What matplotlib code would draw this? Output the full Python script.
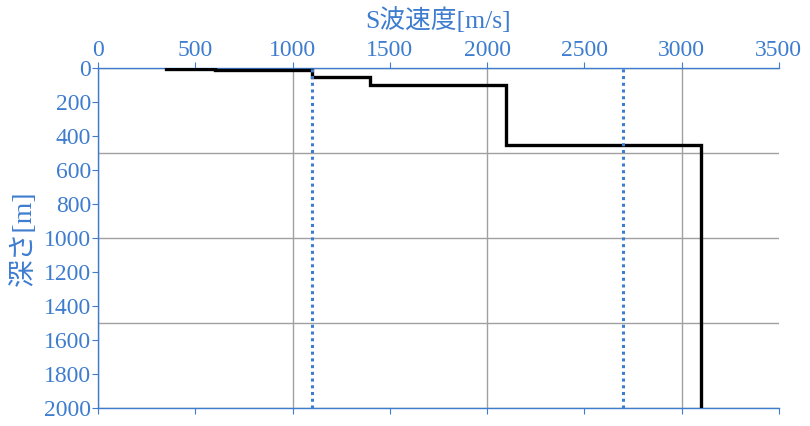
import matplotlib
matplotlib.use("Agg")
import matplotlib.pyplot as plt
from matplotlib.ticker import MultipleLocator

plt.rcParams['font.family'] = ['Liberation Serif', 'Noto Sans CJK JP']

# layered S-wave velocity model (step profile)
vs = [350, 600, 1100, 1400, 2100, 3100]
top_depth = [0, 5, 10, 50, 100, 450]
bottom_depth = [5, 10, 50, 100, 450, 2000]
ref_vs = [1100, 2700]

blue = '#3d7ccf'

# build step coordinates from the layers
xs, ys = [], []
for v, d0, d1 in zip(vs, top_depth, bottom_depth):
    xs += [v, v]
    ys += [d0, d1]

fig = plt.figure(figsize=(8.1, 4.26), dpi=100)
ax = fig.add_axes([0.121, 0.042, 0.8405, 0.798])

ax.plot(xs, ys, color='black', lw=2.4, solid_joinstyle='miter', zorder=3)
for v in ref_vs:
    ax.axvline(v, color=blue, lw=2.2, ls=(0, (1, 1.2)), zorder=4)

ax.set_xlim(0, 3500)
ax.set_ylim(2000, 0)

ax.xaxis.set_major_locator(MultipleLocator(500))
ax.yaxis.set_major_locator(MultipleLocator(200))
ax.xaxis.set_minor_locator(MultipleLocator(1000))
ax.yaxis.set_minor_locator(MultipleLocator(500))
ax.xaxis.remove_overlapping_locs = False
ax.yaxis.remove_overlapping_locs = False
ax.grid(which='minor', color='#a0a0a0', lw=1.0)
ax.grid(which='major', visible=False)

ax.tick_params(which='major', direction='out', length=4, width=0.8, color=blue,
               labelcolor=blue, labelsize=17, top=True, bottom=True,
               labeltop=True, labelbottom=False, pad=1)
ax.tick_params(which='minor', length=0)

ax.xaxis.set_label_position('top')
ax.set_xlabel('S波速度[m/s]', color=blue, fontsize=18.5, labelpad=9)
ax.set_ylabel('深さ[m]', color=blue, fontsize=20, labelpad=5)

for s in ['top', 'bottom', 'left']:
    ax.spines[s].set_color(blue)
    ax.spines[s].set_linewidth(1.0)
ax.spines['right'].set_visible(False)

fig.savefig('out.png', dpi=100)
